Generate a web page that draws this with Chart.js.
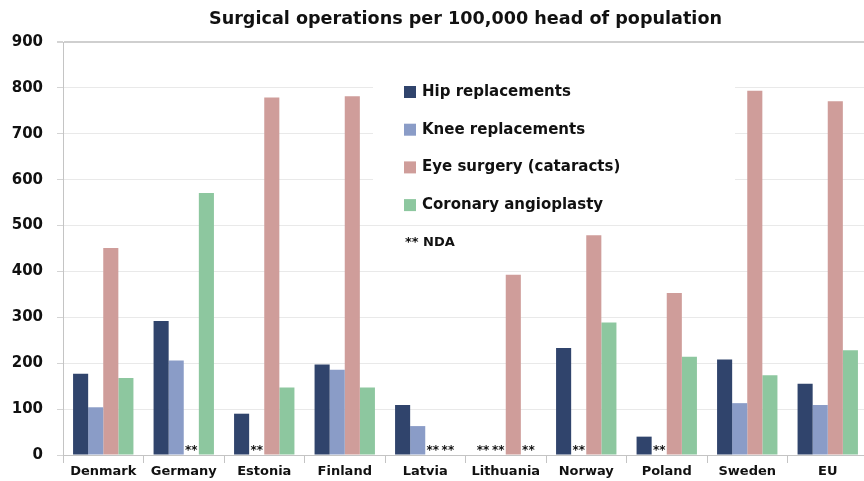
<!DOCTYPE html>
<html>
<head>
<meta charset="utf-8">
<script src="https://cdn.jsdelivr.net/npm/chart.js@4/dist/chart.umd.min.js"></script>
<style>
  html, body { margin: 0; padding: 0; background: #fff; overflow: hidden; }
  #wrap { width: 864px; height: 481px; overflow: hidden; position: relative; }
  canvas { display: block; }
</style>
</head>
<body>
<div id="wrap"><canvas id="c" width="872" height="481"></canvas></div>
<script>
const titleText = 'Surgical operations per 100,000 head of population';
const countries = ['Denmark', 'Germany', 'Estonia', 'Finland', 'Latvia', 'Lithuania', 'Norway', 'Poland', 'Sweden', 'EU'];
const seriesNames = ['Hip replacements', 'Knee replacements', 'Eye surgery (cataracts)', 'Coronary angioplasty'];
// null = no data available (shown as **)
const hipReplacements   = [177, 292,  90, 197, 109, null, 233,  40, 208, 155];
const kneeReplacements  = [104, 206, null, 186,  63, null, null, null, 113, 109];
const eyeSurgery        = [451, null, 779, 782, null, 393, 479, 353, 794, 771];
const coronaryAngio     = [168, 571, 147, 147, null, null, 289, 214, 174, 228];
const yTicks = [0, 100, 200, 300, 400, 500, 600, 700, 800, 900];
const ndaLabel = '** NDA';

const colors = ['#30446c', '#8a9cc7', '#cf9d9a', '#8dc79f'];
const FONT = '"DejaVu Sans", sans-serif';

const titlePlugin = {
  id: 'centeredTitle',
  afterDraw(chart) {
    const ctx = chart.ctx, a = chart.chartArea;
    ctx.save();
    ctx.font = 'bold 17.6px ' + FONT;
    ctx.fillStyle = '#111';
    ctx.textAlign = 'center';
    ctx.textBaseline = 'middle';
    ctx.fillText(titleText, (a.left + a.right) / 2, 19);
    ctx.restore();
  }
};

const legendPlugin = {
  id: 'insideLegend',
  beforeDatasetsDraw(chart) {
    const ctx = chart.ctx;
    ctx.save();
    ctx.fillStyle = '#ffffff';
    ctx.fillRect(373, 50, 362, 166);
    ctx.font = 'bold 15px ' + FONT;
    ctx.textBaseline = 'middle';
    ctx.textAlign = 'left';
    chart.data.datasets.forEach((ds, i) => {
      const y = 92 + i * 37.7;
      ctx.fillStyle = ds.backgroundColor;
      ctx.fillRect(404, y - 6, 12, 12);
      ctx.fillStyle = '#111';
      ctx.fillText(ds.label, 422, y);
    });
    ctx.fillStyle = '#111';
    ctx.font = 'bold 13px ' + FONT;
    ctx.fillText(ndaLabel, 405, 243);
    ctx.restore();
  }
};

const ndaPlugin = {
  id: 'ndaMarks',
  afterDatasetsDraw(chart) {
    const ctx = chart.ctx;
    const y0 = chart.scales.y.getPixelForValue(0);
    ctx.save();
    ctx.font = 'bold 12px ' + FONT;
    ctx.fillStyle = '#111';
    ctx.textAlign = 'center';
    ctx.textBaseline = 'bottom';
    chart.data.datasets.forEach((ds, di) => {
      const meta = chart.getDatasetMeta(di);
      ds.data.forEach((v, i) => {
        if (v === null && meta.data[i]) {
          ctx.fillText('**', meta.data[i].x, y0 + 2);
        }
      });
    });
    ctx.restore();
  }
};

new Chart(document.getElementById('c'), {
  type: 'bar',
  data: {
    labels: countries,
    datasets: [
      { label: seriesNames[0], data: hipReplacements, backgroundColor: colors[0] },
      { label: seriesNames[1], data: kneeReplacements, backgroundColor: colors[1] },
      { label: seriesNames[2], data: eyeSurgery, backgroundColor: colors[2] },
      { label: seriesNames[3], data: coronaryAngio, backgroundColor: colors[3] }
    ]
  },
  options: {
    responsive: false,
    animation: false,
    devicePixelRatio: 1,
    layout: { padding: { top: 42, left: 0, right: 4, bottom: 0 } },
    datasets: { bar: { categoryPercentage: 0.75, barPercentage: 1.0, borderWidth: 0 } },
    plugins: {
      legend: { display: false },
      title: { display: false },
      tooltip: { enabled: false }
    },
    scales: {
      x: {
        offset: true,
        grid: { offset: true, drawOnChartArea: false, tickLength: 8, color: '#c4c4c4' },
        border: { color: '#c4c4c4', width: 1 },
        ticks: { color: '#111', font: { family: FONT, size: 13, weight: 'bold' }, padding: 1, maxRotation: 0, autoSkip: false },
        afterFit(s) { s.height = 26; }
      },
      y: {
        min: 0, max: 900,
        afterBuildTicks(s) { s.ticks = yTicks.map(v => ({ value: v })); },
        grid: {
          tickLength: 6,
          color: c => (c.tick && c.tick.value === 900) ? '#cfcfcf' : '#e9e9e9',
          lineWidth: c => (c.tick && c.tick.value === 900) ? 2 : 1,
          tickColor: '#d4d4d4'
        },
        border: { color: '#c4c4c4', width: 1 },
        ticks: { color: '#111', font: { family: FONT, size: 15, weight: 'bold' }, padding: 14 },
        afterFit(s) { s.width = 63; }
      }
    }
  },
  plugins: [titlePlugin, legendPlugin, ndaPlugin]
});
</script>
</body>
</html>
